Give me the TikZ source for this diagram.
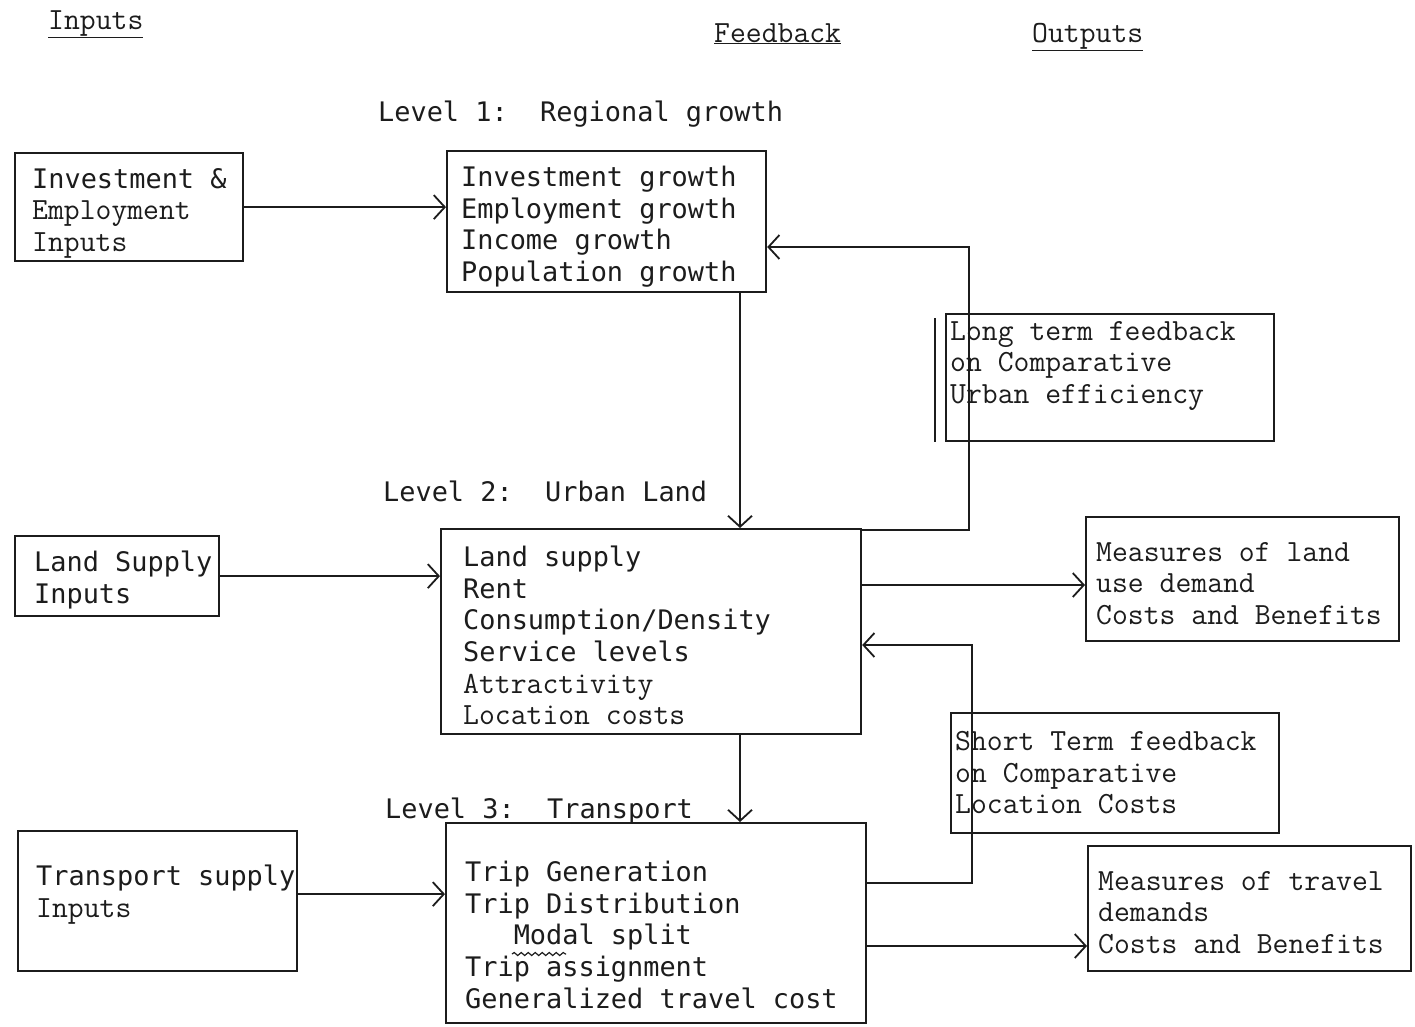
\documentclass[tikz,border=0pt]{standalone}
\usepackage{fontspec}
\newfontfamily\gothic{DejaVu Sans Mono}
\newcommand{\courier}{\ttfamily\fontsize{30.8}{31.6}\selectfont}
\usetikzlibrary{arrows.meta,decorations.pathmorphing}
\definecolor{ink}{HTML}{1C1C1C}
\newcommand{\cour}[1]{{\courier #1}}

\begin{document}
\begin{tikzpicture}[x=1pt,y=-1pt,
  boxline/.style={draw=ink, line width=2.2pt},
  box/.style={boxline, anchor=north west, inner sep=0pt},
  txt/.style={anchor=north west, inner sep=0pt, align=left, text=ink,
    font=\gothic\fontsize{26.9}{31.6}\selectfont},
  ctxt/.style={txt, font=\courier},
  arr/.style={draw=ink, line width=1.8pt, -{Straight Barb[length=11pt,width=24pt]}}]
\useasboundingbox (0,0) rectangle (1415,1026);

% Column headings
\node[ctxt] (inputs-head) at (48,10) {\underline{Inputs}};
\node[ctxt] (feedback-head) at (714,23) {\underline{Feedback}};
\node[ctxt] (outputs-head) at (1032,23) {\underline{Outputs}};

% Level titles
\node[txt] (lvl1) at (378,101) {Level 1:\ \ Regional growth};
\node[txt] (lvl2) at (383,481) {Level 2:\ \ Urban Land};
\node[txt] (lvl3) at (385,798) {Level 3:\ \ Transport};

% Boxes
\node[box, minimum width=228, minimum height=108] (invest) at (14,152) {};
\node[box, minimum width=319, minimum height=141] (regional) at (446,150) {};
\node[box, minimum width=204, minimum height=80] (landin) at (14,535) {};
\node[box, minimum width=420, minimum height=205] (urban) at (440,528) {};
\node[box, minimum width=279, minimum height=140] (transin) at (17,830) {};
\node[box, minimum width=420, minimum height=200] (transport) at (445,822) {};
\node[box, minimum width=313, minimum height=124] (landout) at (1085,516) {};
\node[box, minimum width=323, minimum height=125] (travelout) at (1087,845) {};
\node[box, minimum width=328, minimum height=127] (longfb) at (945,313) {};
\node[box, minimum width=328, minimum height=120] (shortfb) at (950,712) {};
\draw[boxline] ([shift={(-10pt,-5pt)}]longfb.north west) -- ([xshift=-10pt]longfb.south west);

% Box texts
\node[txt] (invest-txt) at (32,168) {Investment \&\\ \cour{Employment}\\ \cour{Inputs}};
\node[txt] (regional-txt) at (461,166) {Investment growth\\ Employment growth\\ Income growth\\ Population growth};
\node[txt] (landin-txt) at (34,551) {Land Supply\\ Inputs};
\node[txt] (urban-txt) at (463,546) {Land supply\\ Rent\\ Consumption/Density\\ Service levels\\ \cour{Attractivity}\\ \cour{Location costs}};
\node[txt] (transin-txt) at (36,865) {Transport supply\\ \cour{Inputs}};
\node[txt] (transport-txt) at (465,861) {Trip Generation\\ Trip Distribution\\ \phantom{Tri}Modal split\\ Trip assignment\\ Generalized travel cost};
\node[ctxt] (landout-txt) at (1096,542) {Measures of land\\ use demand\\ Costs and Benefits};
\node[ctxt] (travelout-txt) at (1098,871) {Measures of travel\\ demands\\ Costs and Benefits};
\node[ctxt] (longfb-txt) at (950,321) {Long term feedback\\ on Comparative\\ Urban efficiency};
\node[ctxt] (shortfb-txt) at (955,731) {Short Term feedback\\ on Comparative\\ Location Costs};
\draw[ink, line width=1.2pt, decorate, decoration={snake, amplitude=1.5pt, segment length=7pt}] (512,954) -- (566,954);

% Links between levels
\coordinate (colA) at (740,0);
\draw[arr] (regional.south -| colA) -- (urban.north -| colA);
\draw[arr] (urban.south -| colA) -- (transport.north -| colA);

% Inputs
\draw[arr] (invest.east) -- (invest.east -| regional.west);
\draw[arr] (landin.east) -- (landin.east -| urban.west);
\coordinate (tin) at ([yshift=7pt]transin.east);
\draw[arr] (tin) -- (tin -| transport.west);

% Outputs
\coordinate (lout) at (0,585);
\draw[arr] (lout -| urban.east) -- (lout -| landout.west);
\coordinate (tout) at (0,946);
\draw[arr] (tout -| transport.east) -- (tout -| travelout.west);

% Feedback loops
\coordinate (lfb-top) at (969,247);
\coordinate (lfb-bot) at (969,530);
\draw[arr] (lfb-bot -| urban.east) -- (lfb-bot) -- (lfb-top) -- (lfb-top -| regional.east);
\coordinate (sfb-top) at (972,645);
\coordinate (sfb-bot) at (972,883);
\draw[arr] (sfb-bot -| transport.east) -- (sfb-bot) -- (sfb-top) -- (sfb-top -| urban.east);

\end{tikzpicture}
\end{document}
